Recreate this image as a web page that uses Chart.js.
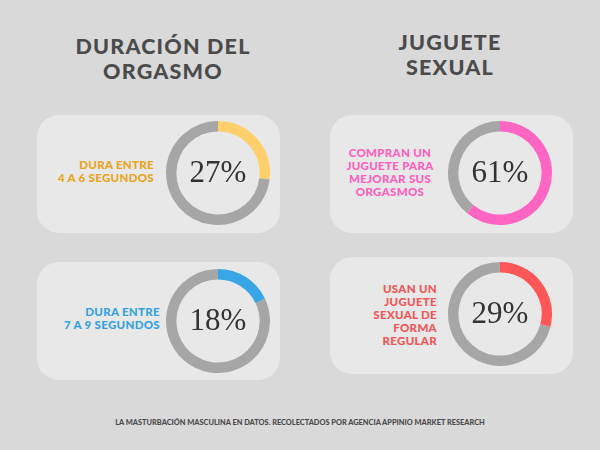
<!DOCTYPE html>
<html>
<head>
<meta charset="utf-8">
<script src="https://cdn.jsdelivr.net/npm/chart.js@4"></script>
<style>
  html, body { margin: 0; padding: 0; }
  body { width: 600px; height: 450px; background: #d9d9d9; position: relative; overflow: hidden; font-family: "Lato", "DejaVu Sans", sans-serif; }
  .title { position: absolute; width: 240px; text-align: center; font-weight: 900; font-size: 21.5px; line-height: 22px; color: #4b4b4b; letter-spacing: 1.2px; }
  .card { position: absolute; background: #e8e8e8; border-radius: 22px; }
  .label { position: absolute; font-weight: 900; font-size: 11.5px; line-height: 13px; letter-spacing: 0.3px; }
  .donut { position: absolute; width: 104px; height: 104px; }
  .foot { position: absolute; left: 0; width: 600px; top: 418px; text-align: center; font-size: 7.4px; font-weight: 900; color: #4b4b4b; }
</style>
</head>
<body>
<div class="title" style="left:43px;top:35px">DURACIÓN DEL</div>
<div class="title" style="left:43px;top:60px">ORGASMO</div>
<div class="title" style="left:330px;top:31px">JUGUETE</div>
<div class="title" style="left:330px;top:56px">SEXUAL</div>

<div class="card" style="left:37px;top:115px;width:243px;height:118px"></div>
<div class="card" style="left:330px;top:115px;width:243px;height:118px"></div>
<div class="card" style="left:37px;top:262px;width:243px;height:118px"></div>
<div class="card" style="left:330px;top:257px;width:243px;height:117px"></div>

<div id="lbl0" class="label" style="right:446px;top:158px;text-align:right"></div>
<div id="lbl1" class="label" style="left:330px;width:120px;top:146px;text-align:center"></div>
<div id="lbl2" class="label" style="right:440px;top:305px;text-align:right"></div>
<div id="lbl3" class="label" style="right:163px;top:282px;text-align:right"></div>

<canvas id="c0" class="donut" style="left:166px;top:121px"></canvas>
<canvas id="c1" class="donut" style="left:448px;top:121px"></canvas>
<canvas id="c2" class="donut" style="left:166px;top:269px"></canvas>
<canvas id="c3" class="donut" style="left:448px;top:262px"></canvas>

<div class="foot">LA MASTURBACIÓN MASCULINA EN DATOS. RECOLECTADOS POR AGENCIA APPINIO MARKET RESEARCH</div>

<script>
// porcentajes de cada anillo
const percents = [27, 61, 18, 29];
const labels = [
  ["DURA ENTRE", "4 A 6 SEGUNDOS"],
  ["COMPRAN UN", "JUGUETE PARA", "MEJORAR SUS", "ORGASMOS"],
  ["DURA ENTRE", "7 A 9 SEGUNDOS"],
  ["USAN UN", "JUGUETE", "SEXUAL DE", "FORMA", "REGULAR"]
];
const ringColors = ["#ffcf6b", "#ff66c4", "#38a6e6", "#ff5757"];
const textColors = ["#e9a420", "#ff5fc0", "#34a2e2", "#f25557"];
const restColor = "#a6a6a6";

const centerText = {
  id: "centerText",
  afterDraw(chart) {
    const ctx = chart.ctx;
    const meta = chart.getDatasetMeta(0).data[0];
    ctx.save();
    ctx.fillStyle = "#333333";
    ctx.font = "31px 'Liberation Serif', 'DejaVu Serif', serif";
    ctx.textAlign = "center";
    ctx.textBaseline = "middle";
    ctx.fillText(chart.data.datasets[0].data[0] + "%", meta.x, meta.y + 1);
    ctx.restore();
  }
};

percents.forEach((p, i) => {
  const lbl = document.getElementById("lbl" + i);
  lbl.innerHTML = labels[i].join("<br>");
  lbl.style.color = textColors[i];

  const ctx = document.getElementById("c" + i).getContext("2d");
  new Chart(ctx, {
    type: "doughnut",
    data: {
      labels: ["si", "resto"],
      datasets: [
        {
          data: [p, 100 - p],
          backgroundColor: [ringColors[i], restColor],
          borderWidth: 0,
        },
      ],
    },
    options: {
      responsive: false,
      animation: false,
      cutout: "80%",
      plugins: {
        legend: { display: false },
        tooltip: { enabled: false },
      },
    },
    plugins: [centerText],
  });
});
</script>
</body>
</html>
